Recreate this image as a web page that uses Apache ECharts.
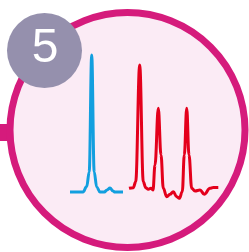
<!DOCTYPE html>
<html>
<head>
<meta charset="utf-8">
<script src="https://cdn.jsdelivr.net/npm/echarts@6/dist/echarts.min.js"></script>
<style>
  html, body { margin: 0; padding: 0; background: #ffffff; }
  #chart { width: 249px; height: 252px; }
</style>
</head>
<body>
<div id="chart"></div>
<script>
// badge number
var badgeText = '5';

// blue trace: single peak (time, intensity)
var blueTime = [1.0, 2.3, 2.67, 2.92, 3.17, 3.42, 3.67, 4.0, 4.43, 4.7, 5.0, 5.3, 5.5, 6.3];
var blueValue = [5.3, 5.3, 9, 18.7, 96.7, 18.7, 8.7, 5.3, 5.3, 6.7, 8, 6, 5.3, 5.3];

// red trace: three peaks
var redTime = [6.9, 7.33, 7.57, 7.97, 8.33, 8.57, 8.83, 9.1, 9.3, 9.5, 9.83, 10.1,
    10.33, 10.67, 11.0, 11.33, 11.67, 11.93, 12.23, 12.43, 12.67, 12.9, 13.17, 13.5, 14.0,
    14.43, 15.0, 15.33, 15.83];
var redValue = [7.8, 8.2, 12.2, 90, 12.2, 8.2, 7.1, 7.8, 6.7, 23.3, 61.1, 30,
    7.8, 2.2, 3.8, 5.5, 2.2, 1.1, 5.5, 30, 61.1, 30, 7.8, 6, 6.7,
    3.8, 7.8, 8.4, 8.4];

function zip(xs, ys) {
    var out = [];
    for (var i = 0; i < xs.length; i++) out.push([xs[i], ys[i]]);
    return out;
}

var myChart = echarts.init(document.getElementById('chart'));
var option = {
    animation: false,
    backgroundColor: '#ffffff',
    graphic: [
        { type: 'rect', z: -10, shape: { x: 0, y: 124, width: 12, height: 17 }, style: { fill: '#d51b7c' } },
        { type: 'circle', z: -9, shape: { cx: 127.5, cy: 130, r: 117.5 },
          style: { fill: '#fbebf5', stroke: '#d51b7c', lineWidth: 7 } },
        { type: 'circle', z: -8, shape: { cx: 44.5, cy: 50.5, r: 37.5 }, style: { fill: '#9590ad' } },
        { type: 'text', z: -7, x: 45, y: 49,
          style: { text: badgeText, fill: '#ffffff', font: '300 48px "Liberation Sans", "DejaVu Sans", sans-serif',
                   textAlign: 'center', textVerticalAlign: 'middle' } }
    ],
    grid: { left: 60, width: 170, top: 50, height: 150, containLabel: false },
    xAxis: { type: 'value', min: 0, max: 17, show: false },
    yAxis: { type: 'value', min: 0, max: 100, show: false },
    series: [
        {
            name: 'blue', type: 'line', data: zip(blueTime, blueValue),
            smooth: 0.4, smoothMonotone: 'x', showSymbol: false,
            lineStyle: { color: '#129fdf', width: 3 }
        },
        {
            name: 'red', type: 'line', data: zip(redTime, redValue),
            smooth: 0.4, smoothMonotone: 'x', showSymbol: false,
            lineStyle: { color: '#e4001c', width: 3 }
        }
    ]
};
myChart.setOption(option, true);
</script>
</body>
</html>
